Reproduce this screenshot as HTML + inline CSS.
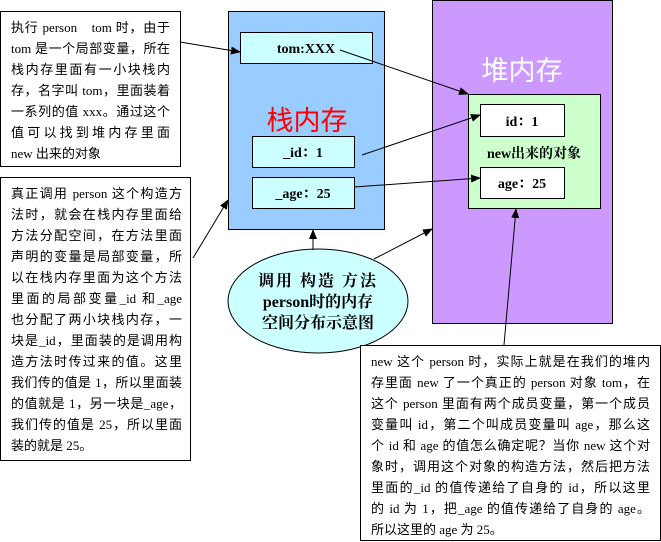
<!DOCTYPE html>
<html><head><meta charset="utf-8"><style>
body{margin:0;width:661px;height:542px;background:#fff;overflow:hidden;position:relative;font-family:"Liberation Serif","Noto Sans CJK SC",serif}
.t{position:absolute;font-size:13px;line-height:21px;color:#000;box-sizing:border-box;border:1px solid #000;background:#fff;padding:5px 0 0 10px;overflow:hidden}
.t div{white-space:nowrap;text-align:justify;text-align-last:justify;overflow:hidden}
.t div.l{text-align-last:left}
</style></head><body>
<svg width="661" height="542" style="position:absolute;left:0;top:0">
<defs><marker id="a" markerWidth="10" markerHeight="8" refX="9" refY="4" orient="auto" markerUnits="userSpaceOnUse"><path d="M0,0L10,4L0,8z" fill="#000"/></marker></defs>
<rect x="228.5" y="11.5" width="156" height="218" fill="#99ccff" stroke="#000"/>
<rect x="432.5" y="0.5" width="180" height="323" fill="#cc99ff" stroke="#000"/>
<rect x="240.5" y="32.5" width="132" height="31" fill="#ccffff" stroke="#000"/>
<rect x="252.5" y="136.5" width="102" height="31" fill="#ccffff" stroke="#000"/>
<rect x="252.5" y="177.5" width="102" height="31" fill="#ccffff" stroke="#000"/>
<rect x="468.5" y="94.5" width="132" height="114" fill="#ccffcc" stroke="#000"/>
<rect x="480.5" y="104.5" width="84" height="32" fill="#fff" stroke="#000"/>
<rect x="480.5" y="167.5" width="84" height="31" fill="#fff" stroke="#000"/>
<ellipse cx="318" cy="301" rx="90" ry="52" fill="#ccffff" stroke="#000"/>
<g stroke="#000" stroke-width="1" fill="none" marker-end="url(#a)">
<line x1="180" y1="42" x2="240" y2="52"/>
<line x1="193" y1="258" x2="228" y2="200"/>
<line x1="340" y1="50" x2="468" y2="94"/>
<line x1="362" y1="155" x2="480" y2="115"/>
<line x1="354" y1="187" x2="480" y2="178"/>
<line x1="313" y1="250" x2="313" y2="230"/>
<line x1="374" y1="259" x2="432" y2="229"/>
<line x1="504" y1="345" x2="516" y2="209"/>
</g>
<g font-family="Liberation Serif,Noto Serif CJK SC,serif" font-weight="bold" font-size="14" text-anchor="middle">
<text x="306" y="53">tom:XXX</text>
<text x="303" y="157">_id：1</text>
<text x="303" y="198">_age：25</text>
<text x="522" y="126">id：1</text>
<text x="522" y="188">age：25</text>
<text x="534" y="158" font-size="14">new出来的对象</text>
<text x="318" y="286" font-size="16" letter-spacing="2">调用 构造 方法</text>
<text x="318" y="307" font-size="16">person时的内存</text>
<text x="318" y="328" font-size="16">空间分布示意图</text>
</g>
<text x="307" y="130" font-family="Noto Sans CJK SC,sans-serif" font-size="27" fill="#ff0000" text-anchor="middle">栈内存</text>
<text x="522" y="80" font-family="Noto Sans CJK SC,sans-serif" font-size="27" fill="#fff" text-anchor="middle">堆内存</text>
</svg>
<div class="t" style="left:0;top:11px;width:181px;height:156px;padding-right:10px">
<div>执行 person　tom 时，由于</div><div>tom 是一个局部变量，所在</div><div>栈内存里面有一小块栈内</div><div>存，名字叫 tom，里面装着</div><div>一系列的值 xxx。通过这个</div><div>值可以找到堆内存里面</div><div class="l">new 出来的对象</div></div>
<div class="t" style="left:0;top:177px;width:191px;height:284px;padding-right:8px">
<div>真正调用 person 这个构造方</div><div>法时，就会在栈内存里面给</div><div>方法分配空间，在方法里面</div><div>声明的变量是局部变量，所</div><div>以在栈内存里面为这个方法</div><div>里面的局部变量_id 和_age</div><div>也分配了两小块栈内存，一</div><div>块是_id，里面装的是调用构</div><div>造方法时传过来的值。这里</div><div>我们传的值是 1，所以里面装</div><div>的值就是 1，另一块是_age，</div><div>我们传的值是 25，所以里面</div><div class="l">装的就是 25。</div></div>
<div class="t" style="left:360px;top:345px;width:301px;height:196px;padding-right:10px">
<div>new 这个 person 时，实际上就是在我们的堆内</div><div>存里面 new 了一个真正的 person 对象 tom，在</div><div>这个 person 里面有两个成员变量，第一个成员</div><div>变量叫 id，第二个叫成员变量叫 age，那么这</div><div>个 id 和 age 的值怎么确定呢？当你 new 这个对</div><div>象时，调用这个对象的构造方法，然后把方法</div><div>里面的_id 的值传递给了自身的 id，所以这里</div><div>的 id 为 1，把_age 的值传递给了自身的 age。</div><div class="l">所以这里的 age 为 25。</div></div>
</body></html>
